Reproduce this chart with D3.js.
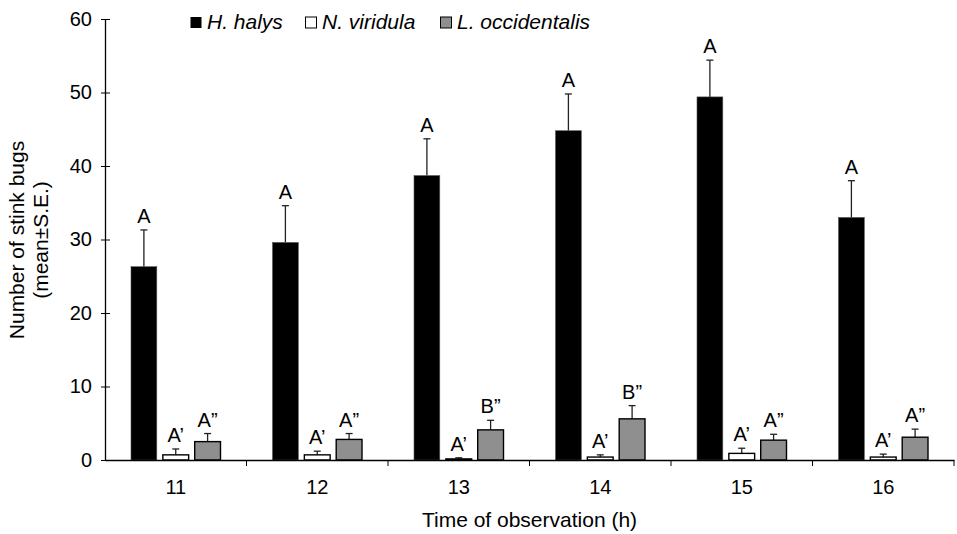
<!DOCTYPE html>
<html>
<head>
<meta charset="utf-8">
<script src="https://cdn.jsdelivr.net/npm/d3@7"></script>
<style>
  body { margin: 0; background: #fff; }
  text { font-family: Arial, "Liberation Sans", sans-serif; fill: #000; }
</style>
</head>
<body>
<div id="chart"></div>
<script>
const hours = ["11", "12", "13", "14", "15", "16"]
const species = ["H. halys", "N. viridula", "L. occidentalis"]
const halysMean = [26.3, 29.6, 38.7, 44.8, 49.4, 33.0]
const halysSE = [5.0, 5.0, 5.0, 5.0, 5.0, 5.0]
const viridulaMean = [0.7, 0.7, 0.15, 0.4, 0.9, 0.4]
const viridulaSE = [0.8, 0.5, 0.15, 0.3, 0.7, 0.4]
const occMean = [2.5, 2.8, 4.1, 5.6, 2.7, 3.1]
const occSE = [1.1, 0.8, 1.3, 1.8, 0.8, 1.1]
const halysLetters = ["A", "A", "A", "A", "A", "A"]
const viridulaLetters = ["A’", "A’", "A’", "A’", "A’", "A’"]
const occLetters = ["A”", "A”", "B”", "B”", "A”", "A”"]
const yTicks = [0, 10, 20, 30, 40, 50, 60]

const sizing = { width: 957, height: 534 }
const margin = { top: 19, right: 3, bot: 74, left: 105 }
const fills = { "H. halys": "#000", "N. viridula": "#fff", "L. occidentalis": "#8f8f8f" }

const svg = d3.select("#chart").append("svg")
    .attr("width", sizing.width)
    .attr("height", sizing.height)

const x0 = d3.scaleBand()
    .domain(hours)
    .range([margin.left, sizing.width - margin.right])

const x1 = d3.scaleBand()
    .domain(species)
    .range([26, x0.bandwidth() - 26])
    .paddingInner(0.19)

const y = d3.scaleLinear()
    .domain([0, 60])
    .range([sizing.height - margin.bot, margin.top])

const rows = []
hours.forEach((h, i) => {
    rows.push({ h, s: species[0], m: halysMean[i], se: halysSE[i], lab: halysLetters[i] })
    rows.push({ h, s: species[1], m: viridulaMean[i], se: viridulaSE[i], lab: viridulaLetters[i] })
    rows.push({ h, s: species[2], m: occMean[i], se: occSE[i], lab: occLetters[i] })
})

const bars = svg.append("g")
const cx = d => x0(d.h) + x1(d.s) + x1.bandwidth() / 2

// error bars (upper only)
bars.selectAll("line.err").data(rows).join("line")
    .attr("class", "err")
    .attr("x1", cx).attr("x2", cx)
    .attr("y1", d => y(d.m)).attr("y2", d => y(d.m + d.se))
    .attr("stroke", "#222").attr("stroke-width", 1.3)
bars.selectAll("line.cap").data(rows).join("line")
    .attr("class", "cap")
    .attr("x1", d => cx(d) - 3.5).attr("x2", d => cx(d) + 3.5)
    .attr("y1", d => y(d.m + d.se)).attr("y2", d => y(d.m + d.se))
    .attr("stroke", "#222").attr("stroke-width", 1.3)

bars.selectAll("rect").data(rows).join("rect")
    .attr("x", d => x0(d.h) + x1(d.s))
    .attr("width", x1.bandwidth())
    .attr("y", d => y(d.m))
    .attr("height", d => y(0) - y(d.m))
    .attr("fill", d => fills[d.s])
    .attr("stroke", d => d.s == "H. halys" ? "#555" : "#000")
    .attr("stroke-width", d => d.s == "H. halys" ? 0.6 : 1.4)

bars.selectAll("text").data(rows).join("text")
    .attr("x", cx)
    .attr("y", d => y(d.m + d.se) - 7)
    .attr("text-anchor", "middle")
    .style("font-size", "20px")
    .text(d => d.lab)

// axes
const yAxis = svg.append("g")
    .attr("transform", `translate(${margin.left},0)`)
    .call(d3.axisLeft(y).tickValues(yTicks).tickSize(4).tickSizeOuter(0))
yAxis.selectAll(".tick line").attr("x2", 5).attr("x1", -4)
yAxis.selectAll(".tick text").attr("x", -13).style("font-size", "20px")

const xAxis = svg.append("g")
    .attr("transform", `translate(0,${y(0)})`)
    .call(d3.axisBottom(x0).tickSize(0).tickSizeOuter(0))
xAxis.selectAll(".tick text").attr("y", 34).attr("dy", 0).style("font-size", "20px")
xAxis.selectAll(".sep").data(hours).join("line")
    .attr("class", "sep")
    .attr("x1", d => x0(d) + x0.bandwidth()).attr("x2", d => x0(d) + x0.bandwidth())
    .attr("y1", 0).attr("y2", 6)
    .attr("stroke", "#000")
svg.selectAll(".domain").attr("stroke", "#000").attr("stroke-width", 1.3)
svg.selectAll(".tick line").attr("stroke", "#000")

// titles
svg.append("text")
    .attr("x", x0.range()[0] + (x0.range()[1] - x0.range()[0]) / 2)
    .attr("y", 527)
    .attr("text-anchor", "middle")
    .style("font-size", "21px")
    .text("Time of observation (h)")

const yt = svg.append("text")
    .attr("transform", "translate(24,240) rotate(-90)")
    .attr("text-anchor", "middle")
    .style("font-size", "21px")
yt.append("tspan").attr("x", 0).attr("dy", 0).text("Number of stink bugs")
yt.append("tspan").attr("x", 0).attr("dy", "1.15em").text("(mean±S.E.)")

// legend
const legX = [190, 305, 440]
const legend = svg.append("g")
species.forEach((s, i) => {
    legend.append("rect")
        .attr("x", legX[i] + 0.5).attr("y", 17)
        .attr("width", 11).attr("height", 11)
        .attr("fill", fills[s])
        .attr("stroke", s == "H. halys" ? "none" : "#000")
    legend.append("text")
        .attr("x", legX[i] + 17).attr("y", 29)
        .style("font-size", "21px").style("font-style", "italic")
        .text(s)
})
</script>
</body>
</html>
